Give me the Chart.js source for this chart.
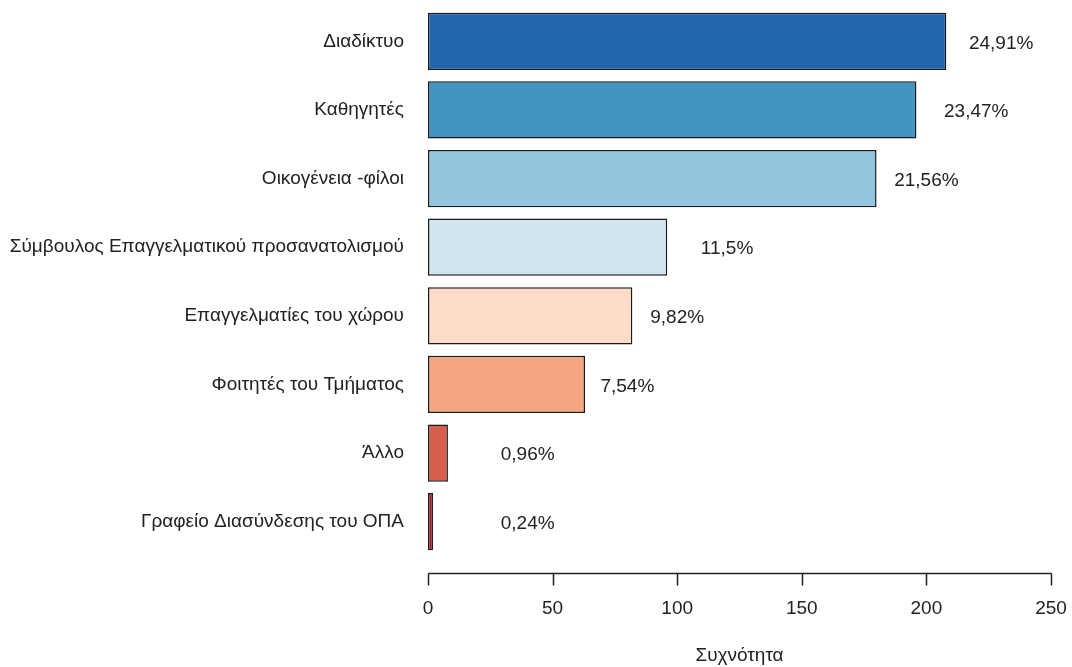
<!DOCTYPE html>
<html><head><meta charset="utf-8">
<script src="https://cdn.jsdelivr.net/npm/chart.js@4/dist/chart.umd.min.js"></script>
<style>html,body{margin:0;padding:0;background:#fff;} #wrap{width:1072px;height:667px;position:relative;}</style>
</head><body><div id="wrap"><canvas id="c"></canvas></div>
<script>
const categories = ["Διαδίκτυο","Καθηγητές","Οικογένεια -φίλοι","Σύμβουλος Επαγγελματικού προσανατολισμού","Επαγγελματίες του χώρου","Φοιτητές του Τμήματος","Άλλο","Γραφείο Διασύνδεσης του ΟΠΑ"];
const frequencies = [208,196,180,96,82,63,8,2];
const percentLabels = ["24,91%","23,47%","21,56%","11,5%","9,82%","7,54%","0,96%","0,24%"];
const percentLabelAt = [230,220,200,120,100,80,40,40];
const xTicks = [0,50,100,150,200,250];
const xTitle = "Συχνότητα";

const barColors = ["#2166AC","#4393C3","#92C5DE","#D1E5F0","#FDDBC7","#F4A582","#D6604D","#B2182B"];
const FONT = '"Liberation Sans", Arial, sans-serif';
const TEXT = '#222';

const annot = {
  id: 'annot',
  afterDatasetsDraw(chart) {
    const {ctx, scales: {x, y}, chartArea} = chart;
    ctx.save();
    ctx.font = '19px ' + FONT;
    ctx.fillStyle = TEXT;
    ctx.textAlign = 'center';
    ctx.textBaseline = 'middle';
    percentLabels.forEach((t, i) => {
      ctx.fillText(t, x.getPixelForValue(percentLabelAt[i]), y.getPixelForValue(i) + 2);
    });
    const ay = Math.round(chartArea.bottom + 17) + 0.5;
    ctx.strokeStyle = TEXT;
    ctx.lineWidth = 1.5;
    ctx.beginPath();
    ctx.moveTo(Math.round(x.getPixelForValue(xTicks[0])) + 0.5, ay);
    ctx.lineTo(Math.round(x.getPixelForValue(xTicks[xTicks.length - 1])) + 0.5, ay);
    x.ticks.forEach(tk => {
      const px = Math.round(x.getPixelForValue(tk.value)) + 0.5;
      ctx.moveTo(px, ay);
      ctx.lineTo(px, ay + 12);
    });
    ctx.stroke();
    ctx.restore();
  }
};

new Chart(document.getElementById('c'), {
  type: 'bar',
  data: {
    labels: categories,
    datasets: [{
      data: frequencies,
      backgroundColor: barColors,
      borderColor: '#1a1a1a',
      borderWidth: 1.5,
      borderSkipped: false,
      barPercentage: 0.834,
      categoryPercentage: 1
    }]
  },
  options: {
    indexAxis: 'y',
    responsive: true,
    maintainAspectRatio: false,
    animation: false,
    layout: { padding: { top: 7, right: 21, bottom: 0, left: 0 } },
    plugins: { legend: { display: false }, tooltip: { enabled: false } },
    scales: {
      x: {
        min: xTicks[0], max: xTicks[xTicks.length - 1],
        afterBuildTicks(scale) { scale.ticks = xTicks.map(v => ({ value: v })); },
        afterFit(scale) { scale.height = 111; scale.paddingLeft = 0; scale.paddingRight = 0; },
        grid: { display: false, drawTicks: false },
        border: { display: false },
        ticks: { padding: 41, color: TEXT, font: { family: FONT, size: 19 }, maxRotation: 0 },
        title: { display: true, text: xTitle, color: TEXT, font: { family: FONT, size: 19 }, padding: { top: 26, bottom: 0 } }
      },
      y: {
        afterFit(scale) { scale.width = 428; scale.paddingTop = 0; scale.paddingBottom = 0; },
        grid: { display: false, drawTicks: false },
        border: { display: false },
        ticks: { padding: 24, color: TEXT, font: { family: FONT, size: 19 } }
      }
    }
  },
  plugins: [annot]
});
</script>
</body></html>
